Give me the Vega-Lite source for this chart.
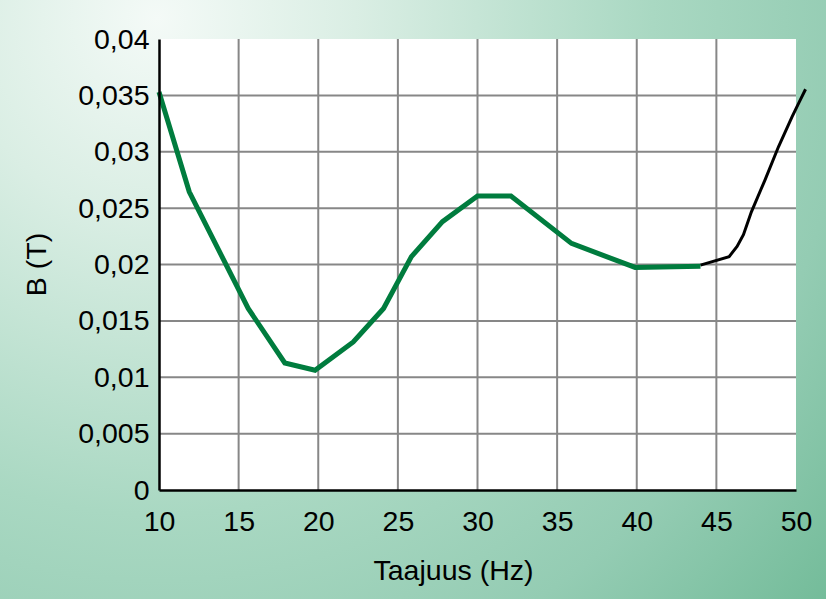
{
  "$schema": "https://vega.github.io/schema/vega-lite/v6.json",
  "width": 826,
  "height": 599,
  "padding": 0,
  "autosize": "none",
  "background": "#a9d8c2",
  "datasets": {
    "green": [
      {"f": 10, "b": 0.0353},
      {"f": 11.9, "b": 0.02645},
      {"f": 15.6, "b": 0.0161},
      {"f": 17.9, "b": 0.01127},
      {"f": 19.8, "b": 0.01062},
      {"f": 22.2, "b": 0.01313},
      {"f": 24.1, "b": 0.0161},
      {"f": 25.85, "b": 0.0207},
      {"f": 27.8, "b": 0.0238},
      {"f": 30, "b": 0.02607},
      {"f": 32.1, "b": 0.02607},
      {"f": 35.9, "b": 0.02187},
      {"f": 39.9, "b": 0.01974},
      {"f": 44, "b": 0.01985}
    ],
    "black": [
      {"f": 44, "b": 0.01995},
      {"f": 45.8, "b": 0.0207},
      {"f": 46.3, "b": 0.0216},
      {"f": 46.7, "b": 0.02265},
      {"f": 47.2, "b": 0.02467},
      {"f": 48.05, "b": 0.02749},
      {"f": 48.9, "b": 0.03044},
      {"f": 49.75, "b": 0.0331},
      {"f": 50.2, "b": 0.0344},
      {"f": 50.6, "b": 0.03554}
    ],
    "xgrid": [{"f": 15}, {"f": 20}, {"f": 25}, {"f": 30}, {"f": 35}, {"f": 40}, {"f": 45}],
    "ygrid": [{"b": 0.005}, {"b": 0.01}, {"b": 0.015}, {"b": 0.02}, {"b": 0.025}, {"b": 0.03}, {"b": 0.035}]
  },
  "layer": [
    {
      "data": {"values": [{}]},
      "mark": {
        "type": "rect",
        "fill": {
          "gradient": "radial",
          "x1": 0.19, "y1": 0.16, "r1": 0,
          "x2": 0.19, "y2": 0.16, "r2": 1.2,
          "stops": [
            {"offset": 0, "color": "#f4faf7"},
            {"offset": 0.2, "color": "#daeee4"},
            {"offset": 0.5, "color": "#a9d8c2"},
            {"offset": 0.7, "color": "#94ccb3"},
            {"offset": 1, "color": "#62b38c"}
          ]
        }
      },
      "encoding": {}
    },
    {
      "data": {"values": [{}]},
      "mark": {"type": "rect", "fill": "white"},
      "encoding": {
        "x": {"datum": 10, "type": "quantitative"},
        "x2": {"datum": 50},
        "y": {"datum": 0, "type": "quantitative"},
        "y2": {"datum": 0.04}
      }
    },
    {
      "data": {"name": "xgrid"},
      "mark": {"type": "rule", "color": "#878787", "strokeWidth": 2},
      "encoding": {
        "x": {"field": "f", "type": "quantitative"},
        "y": {"datum": 0, "type": "quantitative"},
        "y2": {"datum": 0.04}
      }
    },
    {
      "data": {"name": "ygrid"},
      "mark": {"type": "rule", "color": "#878787", "strokeWidth": 2},
      "encoding": {
        "y": {"field": "b", "type": "quantitative"},
        "x": {"datum": 10, "type": "quantitative"},
        "x2": {"datum": 50}
      }
    },
    {
      "data": {"name": "black"},
      "mark": {"type": "line", "color": "black", "strokeWidth": 3},
      "encoding": {
        "x": {"field": "f", "type": "quantitative"},
        "y": {"field": "b", "type": "quantitative"}
      }
    },
    {
      "data": {"name": "green"},
      "mark": {"type": "line", "color": "#007c3e", "strokeWidth": 5},
      "encoding": {
        "x": {
          "field": "f",
          "type": "quantitative",
          "scale": {"domain": [10, 50], "range": [159, 796], "nice": false, "zero": false},
          "axis": {
            "orient": "bottom",
            "offset": -109,
            "values": [10, 15, 20, 25, 30, 35, 40, 45, 50],
            "grid": false,
            "ticks": false,
            "tickSize": 0,
            "labelPadding": 17,
            "labelFlush": false,
            "labelFont": "Liberation Sans",
            "labelFontSize": 28.5,
            "labelColor": "black",
            "domainColor": "black",
            "domainWidth": 2.5,
            "zindex": 1,
            "title": "Taajuus (Hz)",
            "titleFont": "Liberation Sans",
            "titleFontSize": 28.5,
            "titleFontWeight": "normal",
            "titleColor": "black",
            "titleAlign": "center",
            "titleBaseline": "alphabetic",
            "titleX": 453,
            "titleY": 89
          }
        },
        "y": {
          "field": "b",
          "type": "quantitative",
          "scale": {"domain": [0, 0.04], "range": [490, 39], "nice": false, "zero": false},
          "axis": {
            "orient": "left",
            "offset": -159,
            "values": [0, 0.005, 0.01, 0.015, 0.02, 0.025, 0.03, 0.035, 0.04],
            "labelExpr": "replace(format(datum.value, '~g'), '.', ',')",
            "grid": false,
            "ticks": false,
            "tickSize": 0,
            "labelPadding": 10,
            "labelFlush": false,
            "labelFont": "Liberation Sans",
            "labelFontSize": 28.5,
            "labelColor": "black",
            "domainColor": "black",
            "domainWidth": 2.5,
            "zindex": 1,
            "title": "B (T)",
            "titleFont": "Liberation Sans",
            "titleFontSize": 28.5,
            "titleFontWeight": "normal",
            "titleColor": "black",
            "titleAngle": 270,
            "titleAlign": "center",
            "titleBaseline": "alphabetic",
            "titleX": -114,
            "titleY": 264
          }
        }
      }
    }
  ],
  "config": {"view": {"stroke": null}}
}
